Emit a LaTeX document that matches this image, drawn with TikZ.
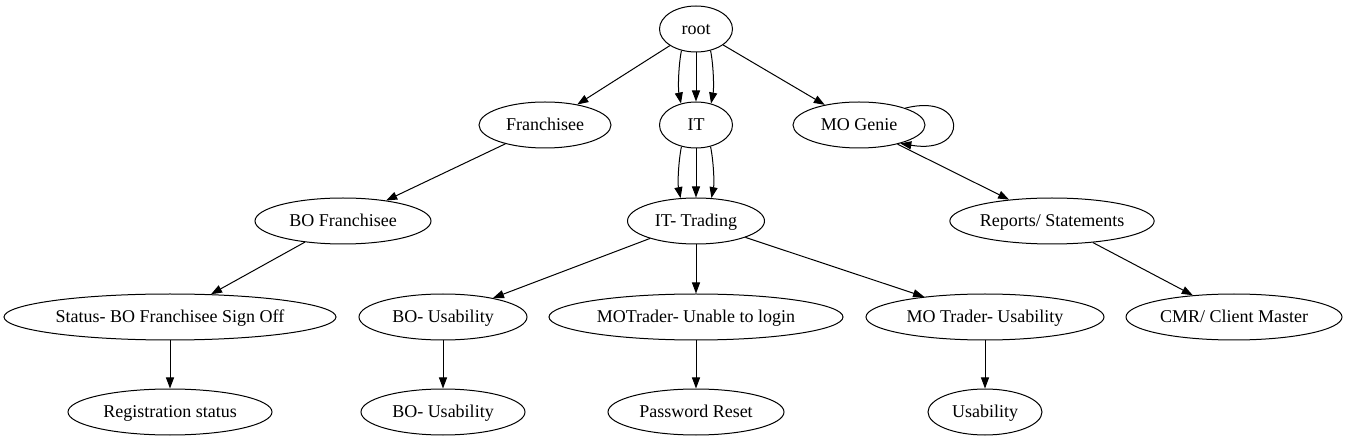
\documentclass[tikz,border=0pt]{standalone}
\usepackage{fontspec}
\newfontfamily\gvfont{Liberation Serif}
\usetikzlibrary{arrows.meta,shapes.geometric}
\tikzset{
  gv/.style={draw,ellipse,line width=1pt,inner sep=0pt,minimum height=46pt,
    text height=13.5pt,text depth=2.5pt,
    font=\gvfont\fontsize{18}{20}\selectfont},
  arr/.style={line width=1pt,-{Triangle[length=11pt,width=8pt]}}
}
\begin{document}
\begin{tikzpicture}[x=1pt,y=-1pt]
\useasboundingbox (0,0) rectangle (1357,443);
\node[gv,minimum width=73pt] (root) at (696,29) {root};
\node[gv,minimum width=132pt] (fr) at (545,125) {Franchisee};
\node[gv,minimum width=73pt] (it) at (696,125) {IT};
\node[gv,minimum width=132pt] (mog) at (859,125) {MO Genie};
\node[gv,minimum width=176pt] (bof) at (343,221) {BO Franchisee};
\node[gv,minimum width=137pt] (ittr) at (696,221) {IT- Trading};
\node[gv,minimum width=187pt] (rep) at (1052,221) {Reports/ Statements};
\node[gv,minimum width=332pt] (stat) at (170,317) {Status- BO Franchisee Sign Off};
\node[gv,minimum width=168pt] (bou) at (443,317) {BO- Usability};
\node[gv,minimum width=294pt] (mot) at (696,317) {MOTrader- Unable to login};
\node[gv,minimum width=238pt] (motu) at (985,317) {MO Trader- Usability};
\node[gv,minimum width=216pt] (cmr) at (1234,317) {CMR/ Client Master};
\node[gv,minimum width=204pt] (reg) at (170,412) {Registration status};
\node[gv,minimum width=164pt] (bou2) at (443,412) {BO- Usability};
\node[gv,minimum width=176pt] (pwd) at (696,412) {Password Reset};
\node[gv,minimum width=114pt] (usa) at (985,412) {Usability};

\draw[arr] (root) -- (fr);
\draw[arr] (root.236) .. controls +(-3,15) and +(-3,-15) .. (it.125);
\draw[arr] (root) -- (it);
\draw[arr] (root.304) .. controls +(3,15) and +(3,-15) .. (it.55);
\draw[arr] (root) -- (mog);
\draw[arr] (mog.20) .. controls +(62,-16) and +(70,12) .. (mog.-24);
\draw[arr] (it.236) .. controls +(-3,15) and +(-3,-15) .. (ittr.124);
\draw[arr] (it) -- (ittr);
\draw[arr] (it.304) .. controls +(3,15) and +(3,-15) .. (ittr.56);
\draw[arr] (mog) -- (rep);
\draw[arr] (fr) -- (bof);
\draw[arr] (bof) -- (stat);
\draw[arr] (stat) -- (reg);
\draw[arr] (ittr) -- (bou);
\draw[arr] (ittr) -- (mot);
\draw[arr] (ittr) -- (motu);
\draw[arr] (bou) -- (bou2);
\draw[arr] (mot) -- (pwd);
\draw[arr] (motu) -- (usa);
\draw[arr] (rep) -- (cmr);
\end{tikzpicture}
\end{document}
